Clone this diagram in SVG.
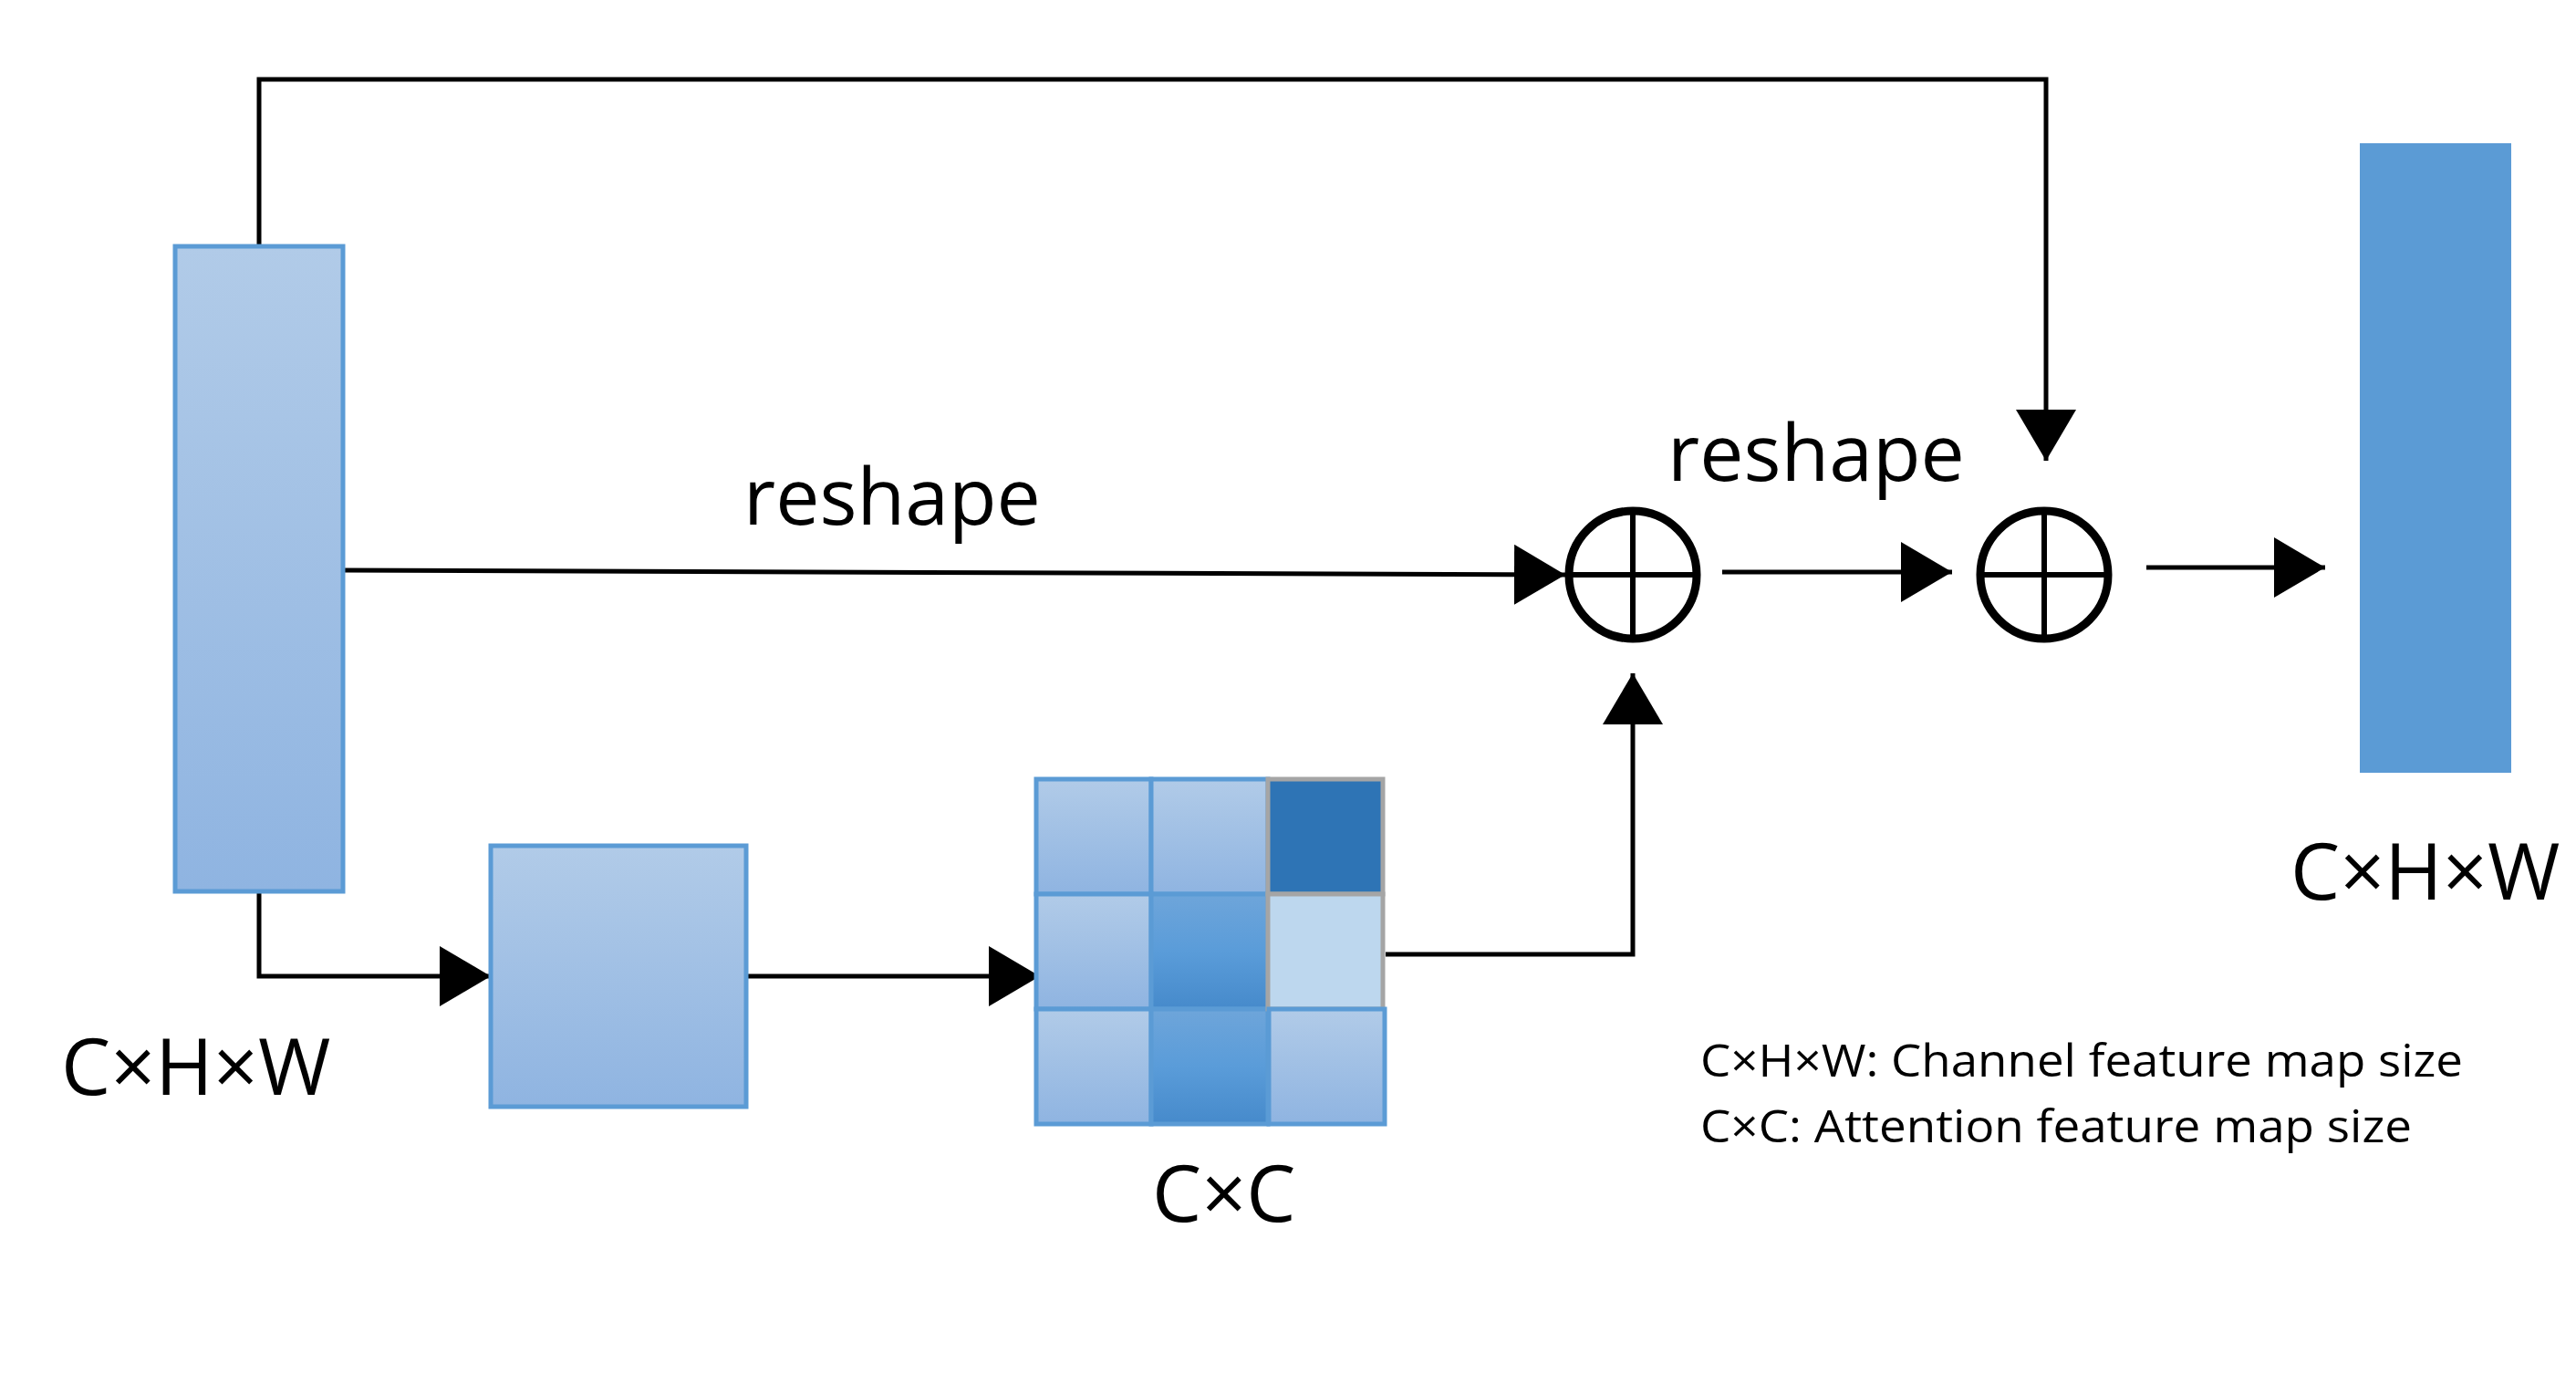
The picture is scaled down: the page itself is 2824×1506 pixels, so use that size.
<svg xmlns="http://www.w3.org/2000/svg" width="2824" height="1506" viewBox="0 0 2824 1506">
<style>
.ln{fill:none;stroke:#000;stroke-width:5}
.t{font-family:"Open Sans","Liberation Sans",sans-serif;fill:#000}
.cell{stroke:#5b9bd5;stroke-width:5}
</style>
<defs>
<linearGradient id="g" x1="0" y1="0" x2="0" y2="1"><stop offset="0" stop-color="#b1cbe8"/><stop offset="1" stop-color="#8fb4e1"/></linearGradient>
<linearGradient id="gd" x1="0" y1="0" x2="0" y2="1"><stop offset="0" stop-color="#6ea5da"/><stop offset="0.5" stop-color="#5a9cd9"/><stop offset="1" stop-color="#468acb"/></linearGradient>
<marker id="a" markerUnits="userSpaceOnUse" markerWidth="60" markerHeight="70" refX="56" refY="33" orient="auto"><path d="M0,0L56,33L0,66Z" fill="#000"/></marker>
</defs>
<rect width="2824" height="1506" fill="#fff"/>
<g id="connectors">
<path class="ln" d="M284,270V87H2243V505" marker-end="url(#a)"/>
<path class="ln" d="M376,625L1716,630" marker-end="url(#a)"/>
<path class="ln" d="M1888,627H2140" marker-end="url(#a)"/>
<path class="ln" d="M2353,622H2549" marker-end="url(#a)"/>
<path class="ln" d="M284,977V1070H538" marker-end="url(#a)"/>
<path class="ln" d="M818,1070H1140" marker-end="url(#a)"/>
<path class="ln" d="M1519,1046H1790V738" marker-end="url(#a)"/>
</g>
<g id="input"><rect x="192" y="270" width="184" height="707" fill="url(#g)" stroke="#5b9bd5" stroke-width="5"/>
<text class="t" x="67" y="1200" font-size="86">C×H×W</text></g>
<g id="square"><rect x="538" y="927" width="280" height="286" fill="url(#g)" stroke="#5b9bd5" stroke-width="5"/></g>
<g id="grid">
<rect class="cell" x="1136" y="854" width="126" height="126" fill="url(#g)"/>
<rect class="cell" x="1262" y="854" width="128" height="126" fill="url(#g)"/>
<rect class="cell" x="1136" y="980" width="126" height="126" fill="url(#g)"/>
<rect class="cell" x="1262" y="980" width="128" height="126" fill="url(#gd)"/>
<rect class="cell" x="1136" y="1106" width="126" height="126" fill="url(#g)"/>
<rect class="cell" x="1262" y="1106" width="128" height="126" fill="url(#gd)"/>
<rect x="1390" y="854" width="126" height="126" fill="#2e74b5" stroke="#a5a5a5" stroke-width="5"/>
<rect x="1390" y="980" width="126" height="126" fill="#bdd7ee" stroke="#a5a5a5" stroke-width="5"/>
<rect class="cell" x="1391" y="1106" width="127" height="126" fill="url(#g)"/>
<text class="t" x="1263" y="1339" font-size="86">C×C</text></g>
<g id="plus1"><circle cx="1790" cy="630" r="70" fill="#fff" stroke="#000" stroke-width="9"/><path d="M1720,630H1860M1790,560V700" stroke="#000" stroke-width="6"/></g>
<g id="plus2"><circle cx="2241" cy="630" r="70" fill="#fff" stroke="#000" stroke-width="9"/><path d="M2171,630H2311M2241,560V700" stroke="#000" stroke-width="6"/></g>
<g id="output"><rect x="2587" y="157" width="166" height="690" fill="#5b9bd5"/>
<text class="t" x="2511" y="986" font-size="86">C×H×W</text></g>
<g id="labels">
<text class="t" x="815" y="575" font-size="86">reshape</text>
<text class="t" x="1828" y="527" font-size="86">reshape</text>
<text class="t" x="1864" y="1180" font-size="50" textLength="836" lengthAdjust="spacingAndGlyphs">C×H×W: Channel feature map size</text>
<text class="t" x="1864" y="1252" font-size="50" textLength="780" lengthAdjust="spacingAndGlyphs">C×C: Attention feature map size</text>
</g>
</svg>
